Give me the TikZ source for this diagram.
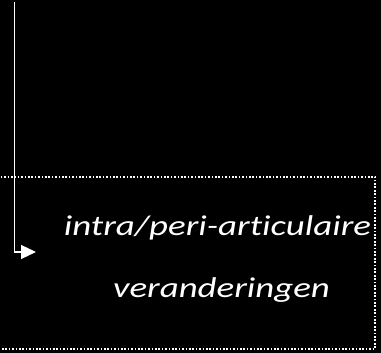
\documentclass[tikz,border=0pt]{standalone}
\usepackage{fontspec}
\newfontfamily\lblfont[FakeStretch=1.29, Ligatures={NoCommon,NoContextual}]{Carlito}
\usetikzlibrary{arrows.meta,positioning}

\begin{document}
\begin{tikzpicture}[x=1pt, y=1pt, >={Triangle[width=14pt,length=15pt]}, line width=1.2pt] % Styles
\tikzstyle{label}=[text=white, font=\lblfont\fontsize{28.6}{34}\selectfont\itshape, inner sep=0pt, anchor=base]
\tikzstyle{region}=[draw=white, line width=1.6pt, dash pattern=on 1.7pt off 1.7pt]
\fill[black] (0,0) rectangle (381,353);
\useasboundingbox (0,0) rectangle (381,353); % Nodes
\node[region, minimum width=380pt, minimum height=172pt, anchor=north east] (box) at (376,177) {};
\node[label] (intra) at (217.5,117) {intra/peri-articulaire};
\node[label] (veran) at (221.5,55) {veranderingen};
\coordinate (top) at (14.5,351);
\coordinate (tip) at (36,101); % Connections
\draw[->, white] (top) |- (tip);
\end{tikzpicture}
\end{document}
